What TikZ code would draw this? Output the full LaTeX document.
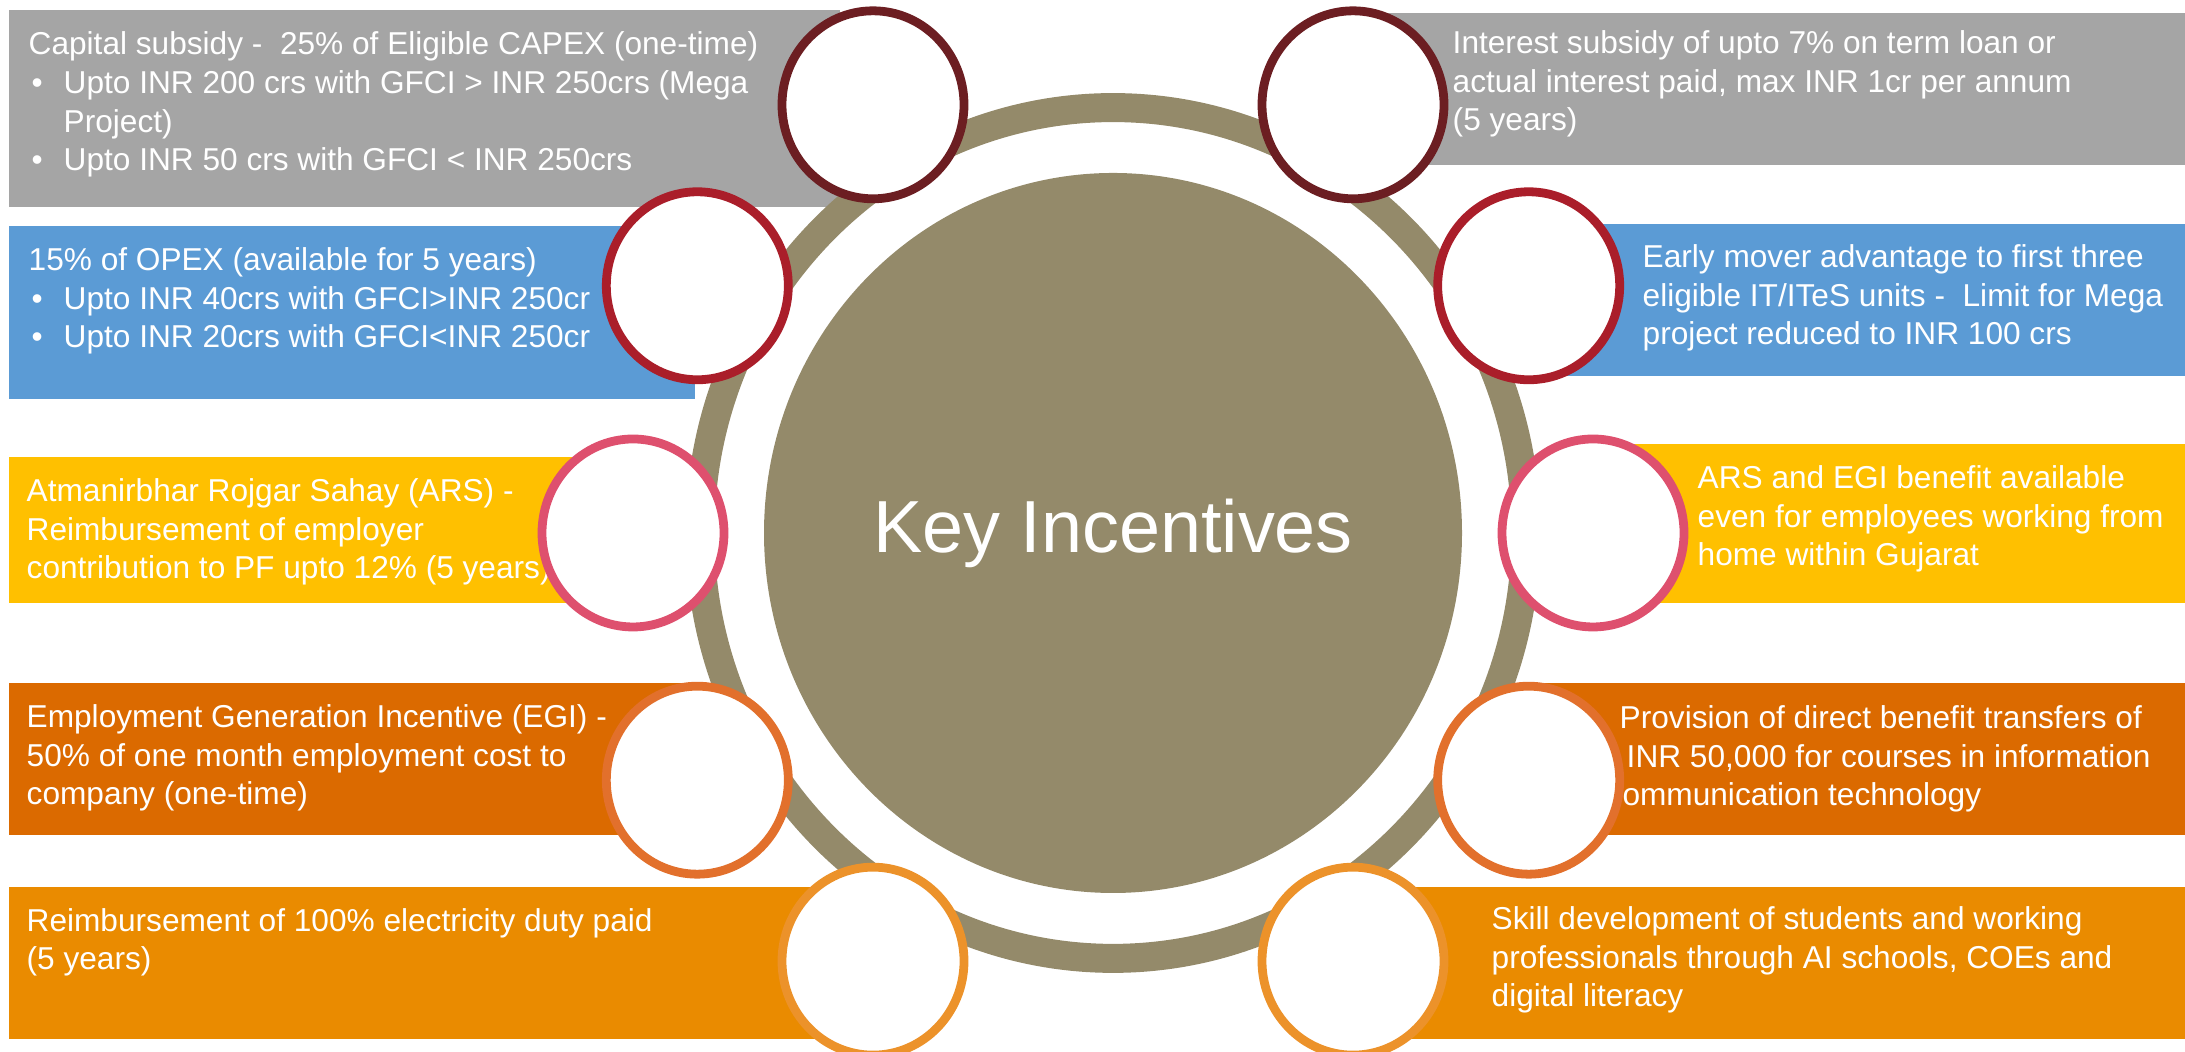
\documentclass[tikz,border=0pt]{standalone}
\usepackage{fontspec}
\setmainfont{Liberation Sans}
\usetikzlibrary{shapes.geometric}
\definecolor{gris}{RGB}{165,165,165}
\definecolor{azul}{RGB}{91,155,213}
\definecolor{amarillo}{RGB}{255,192,0}
\definecolor{naranja}{RGB}{219,106,0}
\definecolor{ambar}{RGB}{234,139,0}
\definecolor{taupe}{RGB}{148,138,106}
\definecolor{granate}{RGB}{108,30,34}
\definecolor{rojo}{RGB}{170,30,42}
\definecolor{rosa}{RGB}{222,80,110}
\definecolor{mandarina}{RGB}{226,112,44}
\definecolor{oro}{RGB}{236,146,42}
\newcommand{\bul}{\hspace*{0.03cm}\makebox[0.32cm][l]{\textbullet}}
\tikzset{
    info/.style={anchor=base west, inner sep=0pt, align=left, text=white, font=\fontsize{9}{11}\selectfont},
    hub/.style={ellipse, fill=taupe, minimum width=6.98cm, minimum height=7.2cm, inner sep=0pt, text=white, font=\fontsize{21}{25}\selectfont},
    dot/.style={ellipse, draw=#1, fill=white, line width=2.5pt, minimum width=1.82cm, minimum height=1.88cm},
    rim/.style={draw=taupe, line width=0.29cm},
}
\begin{document}
\begin{tikzpicture}
    \useasboundingbox (0,0) rectangle (21.85,10.52);

    % left bands
    \fill[gris] (0.09,10.42) rectangle (8.4,8.45);
    \fill[azul] (0.09,8.26) rectangle (6.95,6.53);
    \fill[amarillo] (0.09,5.95) rectangle (6.0,4.49);
    \fill[naranja] (0.09,3.69) rectangle (6.85,2.17);
    \fill[ambar] (0.09,1.65) rectangle (8.5,0.13);
    % right bands
    \fill[gris] (13.8,10.39) rectangle (21.85,8.87);
    \fill[azul] (15.6,8.28) rectangle (21.85,6.76);
    \fill[amarillo] (16.0,6.08) rectangle (21.85,4.49);
    \fill[naranja] (15.4,3.69) rectangle (21.85,2.17);
    \fill[ambar] (13.8,1.65) rectangle (21.85,0.13);

    % texts, placed at the baseline of their last line
    \node[info] (capT) at (0.28,8.81) {Capital subsidy -\ \ 25\% of Eligible CAPEX (one-time)\\
        \bul Upto INR 200 crs with GFCI > INR 250crs (Mega\\
        \hspace*{0.35cm}Project)\\
        \bul Upto INR 50 crs with GFCI < INR 250crs};
    \node[info] (opexT) at (0.28,7.04) {15\% of OPEX (available for 5 years)\\
        \bul Upto INR 40crs with GFCI>INR 250cr\\
        \bul Upto INR 20crs with GFCI<INR 250cr};
    \node[info] (arsT) at (0.26,4.73) {Atmanirbhar Rojgar Sahay (ARS) -\\
        Reimbursement of employer\\
        contribution to PF upto 12\% (5 years)};
    \node[info] (egiT) at (0.26,2.47) {Employment Generation Incentive (EGI) -\\
        50\% of one month employment cost to\\
        company (one-time)};
    \node[info] (elecT) at (0.26,0.82) {Reimbursement of 100\% electricity duty paid\\
        (5 years)};

    \node[info] (intT) at (14.52,9.21) {Interest subsidy of upto 7\% on term loan or\\
        actual interest paid, max INR 1cr per annum\\
        (5 years)};
    \node[info] (earlyT) at (16.42,7.07) {Early mover advantage to first three\\
        eligible IT/ITeS units -\ \ Limit for Mega\\
        project reduced to INR 100 crs};
    \node[info] (arsRT) at (16.97,4.86) {ARS and EGI benefit available\\
        even for employees working from\\
        home within Gujarat};
    \node[info] (dbtT) at (16.19,2.46) {Provision of direct benefit transfers of\\
        \hspace*{0.07cm}INR 50,000 for courses in information\\
        \hspace*{-0.13cm}communication technology};
    \node[info] (skillT) at (14.91,0.45) {Skill development of students and working\\
        professionals through AI schools, COEs and\\
        digital literacy};

    % ring and centre
    \draw[rim] (11.13,5.19) ellipse (4.13 and 4.254);
    \node[hub] (hub) at (11.13,5.19) {Key Incentives};

    \foreach \ang/\col [count=\i] in {120/granate, 60/granate, 150/rojo, 30/rojo, 180/rosa, 0/rosa, 210/mandarina, 330/mandarina, 240/oro, 300/oro}
        \node[dot=\col] (d\i) at ([shift={(\ang:4.8 and 4.944)}]hub.center) {};
\end{tikzpicture}
\end{document}
